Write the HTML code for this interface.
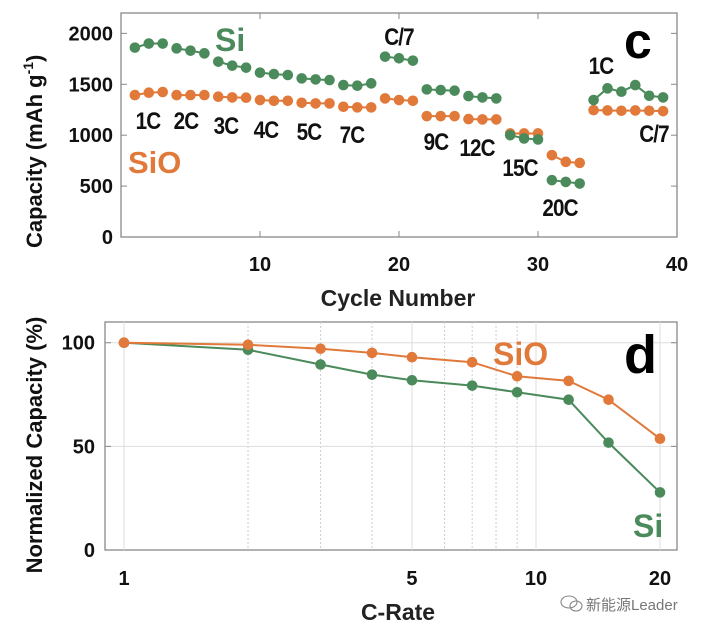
<!DOCTYPE html>
<html><head><meta charset="utf-8"><style>
html,body{margin:0;padding:0;background:#fff;width:713px;height:635px;overflow:hidden}
svg{display:block}
text{font-family:"Liberation Sans","Noto Sans CJK SC",sans-serif;font-weight:bold}
</style></head><body>
<svg id="chart" width="713" height="635" viewBox="0 0 713 635" xmlns="http://www.w3.org/2000/svg"></svg>
<script>
const siCap=[1860,1900,1900,1853,1830,1804,1722,1683,1663,1614,1600,1591,1558,1548,1541,1492,1486,1509,1771,1755,1732,1450,1443,1437,1384,1371,1361,1000,968,958,558,541,525,1345,1460,1427,1492,1387,1371];
const sioCap=[1394,1417,1424,1394,1394,1394,1378,1371,1368,1345,1338,1338,1318,1312,1312,1279,1273,1273,1361,1345,1338,1187,1187,1187,1158,1155,1155,1017,1017,1017,804,738,728,1246,1243,1240,1243,1240,1236];
const segments=[[1,3],[4,6],[7,9],[10,12],[13,15],[16,18],[19,21],[22,24],[25,27],[28,30],[31,33],[34,39]];
const capTicks=[0,500,1000,1500,2000];
const cycleTicks=[10,20,30,40];
const rates=[1,2,3,4,5,7,9,12,15,20];
const sioNorm=[100,99,97.1,95.1,93,90.6,83.8,81.6,72.5,53.7];
const siNorm=[100,96.6,89.5,84.6,81.9,79.3,76.1,72.5,51.8,27.8];
const normTicks=[0,50,100];
const rateTicks=[1,5,10,20];
const rateGrid=[2,3,4,6,7,8,9];

const NS="http://www.w3.org/2000/svg";
const svg=document.getElementById('chart');
function el(tag,attrs,parent){const e=document.createElementNS(NS,tag);for(const k in attrs)e.setAttribute(k,attrs[k]);(parent||svg).appendChild(e);return e;}
function txt(s,attrs){const t=el('text',attrs);t.textContent=s;return t;}
const GREEN="#4b8a5b",ORANGE="#e0793a";

// ---- top panel
const T={l:121,r:677,t:13,b:237};
const xC=v=>T.l+(v/40)*(T.r-T.l);
const yC=v=>T.b-(v/2200)*(T.b-T.t);
const topRect=el('rect',{x:T.l,y:T.t,width:T.r-T.l,height:T.b-T.t,fill:'none',stroke:'#888','stroke-width':1.3});


capTicks.forEach(v=>{
  const y=yC(v);
  el('line',{x1:T.l,x2:T.l+6,y1:y,y2:y,stroke:'#888'});
  el('line',{x1:T.r-6,x2:T.r,y1:y,y2:y,stroke:'#888'});
  const t=txt(String(v),{x:T.l-8,y:y+7,'text-anchor':'end','font-size':20,fill:'#111'});
  
  
});
cycleTicks.forEach(v=>{
  const x=xC(v);
  el('line',{x1:x,x2:x,y1:T.b,y2:T.b-6,stroke:'#888'});
  el('line',{x1:x,x2:x,y1:T.t,y2:T.t+6,stroke:'#888'});
  const t=txt(String(v),{x:x,y:T.b+34,'text-anchor':'middle','font-size':20,fill:'#111'});
  
  
});
function drawSeries(arr,color,name){
  segments.forEach(([a,b])=>{
    const pts=[];for(let c=a;c<=b;c++)pts.push(xC(c)+','+yC(arr[c-1]));
    const pl=el('polyline',{points:pts.join(' '),fill:'none',stroke:color,'stroke-width':2});
    
    
  });
  arr.forEach((v,i)=>{
    const c=el('circle',{cx:xC(i+1),cy:yC(v),r:5.3,fill:color});
    
    
  });
}
drawSeries(sioCap,ORANGE,'sio-capacity');
drawSeries(siCap,GREEN,'si-capacity');
const rateLabels=[["1C",148,129],["2C",186,129],["3C",226,134],["4C",266,138],["5C",309,140],["7C",352,143],["C/7",399,45],["9C",436,150],["12C",477,156],["15C",520,176],["20C",560,216],["1C",601,74],["C/7",654,142]];
rateLabels.forEach(([s,x,y])=>{
  const t=txt(s,{x:x,y:y,'text-anchor':'middle','font-size':24,fill:'#111',transform:`translate(${x},0) scale(0.86,1) translate(${-x},0)`,'letter-spacing':'-1'});
  
  
});
let t;
t=txt("Si",{x:215,y:51,'font-size':32,fill:GREEN});
t=txt("SiO",{x:128,y:173,'font-size':31,fill:ORANGE});
t=txt("c",{x:624,y:58,'font-size':50,fill:'#000'});
t=txt("Capacity (mAh g",{x:0,y:0,'font-size':22,fill:'#111',transform:'translate(42,248) rotate(-90)'});
const sup=el('tspan',{dy:-9,'font-size':14},t);sup.textContent="-1";
const cl=el('tspan',{dy:9},t);cl.textContent=")";
t=txt("Cycle Number",{x:398,y:306,'text-anchor':'middle','font-size':23,fill:'#222'});

// ---- bottom panel
const B={l:105,r:677,t:322,b:550};
const x0=124,x20=660;
const xR=v=>x0+Math.log10(v)/Math.log10(20)*(x20-x0);
const yN=v=>B.b-(v/110)*(B.b-B.t);
const botRect=el('rect',{x:B.l,y:B.t,width:B.r-B.l,height:B.b-B.t,fill:'none',stroke:'#888','stroke-width':1.3});


rateGrid.forEach(v=>{const x=xR(v);const g=el('line',{x1:x,x2:x,y1:B.t,y2:B.b,stroke:'#ccc','stroke-dasharray':'2,2'});});
rateTicks.forEach(v=>{
  const x=xR(v);
  el('line',{x1:x,x2:x,y1:B.t,y2:B.b,stroke:'#ddd'});
  const tt=txt(String(v),{x:x,y:B.b+35,'text-anchor':'middle','font-size':20,fill:'#111'});
  
  
});
normTicks.forEach(v=>{
  const y=yN(v);
  if(v>0)el('line',{x1:B.l,x2:B.r,y1:y,y2:y,stroke:'#ddd'});
  el('line',{x1:B.l,x2:B.l+6,y1:y,y2:y,stroke:'#888'});
  el('line',{x1:B.r-6,x2:B.r,y1:y,y2:y,stroke:'#888'});
  const tt=txt(String(v),{x:B.l-10,y:y+7,'text-anchor':'end','font-size':20,fill:'#111'});
  
  
});
function drawNorm(arr,color,name){
  const pl=el('polyline',{points:arr.map((v,i)=>xR(rates[i])+','+yN(v)).join(' '),fill:'none',stroke:color,'stroke-width':2});
  
  
  arr.forEach((v,i)=>{
    const c=el('circle',{cx:xR(rates[i]),cy:yN(v),r:5.3,fill:color});
    
    
  });
}
drawNorm(siNorm,GREEN,'si-normalized');
drawNorm(sioNorm,ORANGE,'sio-normalized');
t=txt("SiO",{x:493,y:365,'font-size':32,fill:ORANGE});
t=txt("d",{x:624,y:373,'font-size':54,fill:'#000'});
t=txt("Si",{x:633,y:537,'font-size':32,fill:GREEN});
t=txt("Normalized Capacity (%)",{x:0,y:0,'text-anchor':'middle','font-size':22,fill:'#111',transform:'translate(42,445) rotate(-90)'});
t=txt("C-Rate",{x:398,y:620,'text-anchor':'middle','font-size':23,fill:'#222'});
t=txt("新能源Leader",{x:586,y:610,'font-size':15,fill:'#777',style:'font-weight:normal'});
const ic=el('g',{fill:'none',stroke:'#888','stroke-width':1.1});


el('ellipse',{cx:569,cy:602,rx:8,ry:6},ic);
el('ellipse',{cx:576,cy:606,rx:6,ry:5},ic);
</script>
</body></html>
